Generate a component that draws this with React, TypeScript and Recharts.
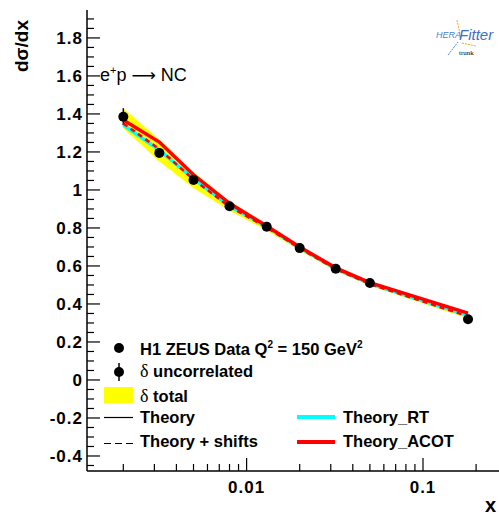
import React from "react";
import {
  ComposedChart,
  Area,
  Line,
  Scatter,
  ErrorBar,
  XAxis,
  YAxis,
} from "recharts";

// x bins and measured cross section (Q^2 = 150 GeV^2)
const xBins = [0.002, 0.0032, 0.005, 0.008, 0.013, 0.02, 0.032, 0.05, 0.18];
const sigmaData = [1.385, 1.195, 1.052, 0.914, 0.806, 0.694, 0.585, 0.51, 0.32];
const errUncorr = [0.045, 0.02, 0.015, 0.012, 0.01, 0.01, 0.01, 0.01, 0.012];
const bandLow = [1.325, 1.15, 1.01, 0.89, 0.787, 0.681, 0.574, 0.496, 0.323];
const bandHigh = [1.43, 1.265, 1.095, 0.94, 0.82, 0.705, 0.595, 0.515, 0.345];
const theory = [1.345, 1.21, 1.058, 0.915, 0.805, 0.695, 0.585, 0.507, 0.338];
const theoryShifts = [1.35, 1.215, 1.055, 0.912, 0.803, 0.693, 0.584, 0.505, 0.335];
const theoryRT = [1.342, 1.21, 1.06, 0.916, 0.806, 0.696, 0.586, 0.507, 0.34];
const theoryACOT = [1.368, 1.252, 1.08, 0.93, 0.81, 0.7, 0.59, 0.512, 0.352];

const xMajorTicks = [0.01, 0.1];
const xMinorTicks = [
  0.002, 0.003, 0.004, 0.005, 0.006, 0.007, 0.008, 0.009,
  0.02, 0.03, 0.04, 0.05, 0.06, 0.07, 0.08, 0.09, 0.2,
];
const yMajorTicks = [-0.4, -0.2, 0, 0.2, 0.4, 0.6, 0.8, 1, 1.2, 1.4, 1.6, 1.8];
const yMinorTicks = [-0.45, -0.35, -0.3, -0.25, -0.15, -0.1, -0.05, 0.05, 0.1, 0.15,
  0.25, 0.3, 0.35, 0.45, 0.5, 0.55, 0.65, 0.7, 0.75, 0.85, 0.9, 0.95, 1.05, 1.1,
  1.15, 1.25, 1.3, 1.35, 1.45, 1.5, 1.55, 1.65, 1.7, 1.75, 1.85, 1.9];

const data = xBins.map((x, i) => ({
  x,
  sigma: sigmaData[i],
  err: errUncorr[i],
  band: [bandLow[i], bandHigh[i]],
  theory: theory[i],
  shifts: theoryShifts[i],
  rt: theoryRT[i],
  acot: theoryACOT[i],
}));

const FONT = "'Liberation Sans', Arial, Helvetica, sans-serif";
const isMajorX = (v: number) => xMajorTicks.some((t) => Math.abs(t - v) < 1e-9);
const isMajorY = (v: number) => yMajorTicks.some((t) => Math.abs(t - v) < 1e-9);

const XTick = (props: any) => {
  const { x, y, payload } = props;
  const major = isMajorX(payload.value);
  return (
    <g>
      <line x1={x} x2={x} y1={y} y2={y - (major ? 13 : 7)} stroke="#000" strokeWidth={1.2} />
      {major && (
        <text x={x} y={y + 22} textAnchor="middle" fontFamily={FONT} fontWeight="bold"
          fontSize={17} letterSpacing={1} fill="#000">
          {String(payload.value)}
        </text>
      )}
    </g>
  );
};

const YTick = (props: any) => {
  const { x, y, payload } = props;
  const major = isMajorY(payload.value);
  return (
    <g>
      <line x1={x} x2={x + (major ? 13 : 7)} y1={y} y2={y} stroke="#000" strokeWidth={1.2} />
      {major && (
        <text x={x - 4} y={y + 6} textAnchor="end" fontFamily={FONT} fontWeight="bold"
          fontSize={17} letterSpacing={1} fill="#000">
          {String(parseFloat(payload.value.toFixed(2)))}
        </text>
      )}
    </g>
  );
};

const Dot = (props: any) => <circle cx={props.cx} cy={props.cy} r={5} fill="#000" />;

export default function App() {
  const xDomain = [0.001245, 0.2697];
  const yDomain = [-0.479, 1.947];
  return (
    <div style={{ position: "absolute", left: 0, top: 0, width: 499, height: 515, overflow: "hidden", background: "#fff" }}>
      <ComposedChart width={499} height={515} data={data}
        margin={{ top: 10, right: 0, bottom: 0, left: 0 }}>
        <XAxis dataKey="x" type="number" scale="log" domain={xDomain} allowDataOverflow
          ticks={[...xMinorTicks, ...xMajorTicks]} interval={0} tick={<XTick />}
          tickSize={0} tickMargin={0} tickLine={false} height={44}
          axisLine={{ stroke: "#000", strokeWidth: 1.5 }} />
        <XAxis xAxisId="top" dataKey="x" type="number" scale="log" domain={xDomain}
          allowDataOverflow orientation="top" height={0} tick={false} tickLine={false}
          axisLine={{ stroke: "#000", strokeWidth: 1.5 }} />
        <YAxis type="number" domain={yDomain} allowDataOverflow width={87}
          ticks={[...yMinorTicks, ...yMajorTicks]} interval={0} tick={<YTick />}
          tickSize={0} tickMargin={0} tickLine={false}
          axisLine={{ stroke: "#000", strokeWidth: 1.5 }} />
        <Area dataKey="band" type="linear" fill="#ffff00" fillOpacity={1} stroke="none"
          isAnimationActive={false} />
        <Scatter dataKey="sigma" shape={<Dot />} isAnimationActive={false}>
          <ErrorBar dataKey="err" direction="y" width={0} stroke="#000" strokeWidth={1.5} />
        </Scatter>
        <Line dataKey="theory" type="linear" stroke="#000" strokeWidth={1} dot={false}
          isAnimationActive={false} />
        <Line dataKey="rt" type="linear" stroke="#00ffff" strokeWidth={3.5} dot={false}
          isAnimationActive={false} />
        <Line dataKey="shifts" type="linear" stroke="#ff0000" strokeWidth={2.5}
          strokeDasharray="5 4" dot={false} isAnimationActive={false} />
        <Line dataKey="acot" type="linear" stroke="#ff0000" strokeWidth={3.5} dot={false}
          isAnimationActive={false} />
      </ComposedChart>

      <svg width={499} height={515} style={{ position: "absolute", left: 0, top: 0, pointerEvents: "none" }}>
        <text transform="translate(28,20) rotate(-90)" textAnchor="end" fontFamily={FONT}
          fontWeight="bold" fontSize={19} fill="#000">dσ/dx</text>
        <text x={496} y={512} textAnchor="end" fontFamily={FONT} fontWeight="bold"
          fontSize={20} fill="#000">x</text>
        <text x={100} y={81} fontFamily={FONT} fontSize={18} fill="#000">
          e<tspan fontSize={11} dy={-7}>+</tspan><tspan dy={7}>p </tspan>
          <tspan fontFamily="'DejaVu Sans', sans-serif" fontSize={17}>⟶</tspan>
          <tspan> NC</tspan>
        </text>

        {/* logo */}
        <g fontFamily={FONT} fontStyle="italic">
          <line x1={457} y1={20} x2={460} y2={34} stroke="#f0a030" strokeWidth={1} strokeDasharray="2 1" />
          <line x1={462} y1={43} x2={476} y2={46} stroke="#f0a030" strokeWidth={1} strokeDasharray="2 1" />
          <line x1={448} y1={55} x2={458} y2={42} stroke="#5080d0" strokeWidth={1} strokeDasharray="2 1" />
          <text x={436} y={38} fontSize={9} fill="#4a7fd0">HERA</text>
          <text x={459} y={40} fontSize={15} fill="#3a70c8">Fitter</text>
          <text x={459} y={55} fontSize={7} fontStyle="normal" fontFamily="'Liberation Serif', serif" fill="#000">trunk</text>
        </g>

        {/* legend */}
        <g fontFamily={FONT} fontWeight="bold" fontSize={16.5} fill="#000">
          <circle cx={119} cy={348} r={5} fill="#000" />
          <text x={140} y={355}>
            H1 ZEUS Data Q<tspan fontSize={10} dy={-7}>2</tspan>
            <tspan dy={7}> = 150 GeV</tspan><tspan fontSize={10} dy={-7}>2</tspan>
          </text>
          <circle cx={119} cy={372} r={5} fill="#000" />
          <line x1={119} x2={119} y1={363} y2={381} stroke="#000" strokeWidth={1.5} />
          <text x={140} y={377}>
            <tspan fontFamily="'Liberation Serif', serif" fontWeight="normal" fontSize={18}>δ</tspan> uncorrelated
          </text>
          <rect x={104} y={387} width={29} height={16} fill="#ffff00" />
          <text x={140} y={402}>
            <tspan fontFamily="'Liberation Serif', serif" fontWeight="normal" fontSize={18}>δ</tspan> total
          </text>
          <line x1={104} x2={133} y1={417.5} y2={417.5} stroke="#000" strokeWidth={1.2} />
          <text x={140} y={423}>Theory</text>
          <line x1={104} x2={133} y1={443.5} y2={443.5} stroke="#000" strokeWidth={1.2} strokeDasharray="7 4" />
          <text x={140} y={447}>Theory + shifts</text>
          <line x1={297} x2={335} y1={417} y2={417} stroke="#00ffff" strokeWidth={4} />
          <text x={343} y={423}>Theory_RT</text>
          <line x1={297} x2={335} y1={442} y2={442} stroke="#ff0000" strokeWidth={4} />
          <text x={343} y={447}>Theory_ACOT</text>
        </g>
      </svg>
    </div>
  );
}
